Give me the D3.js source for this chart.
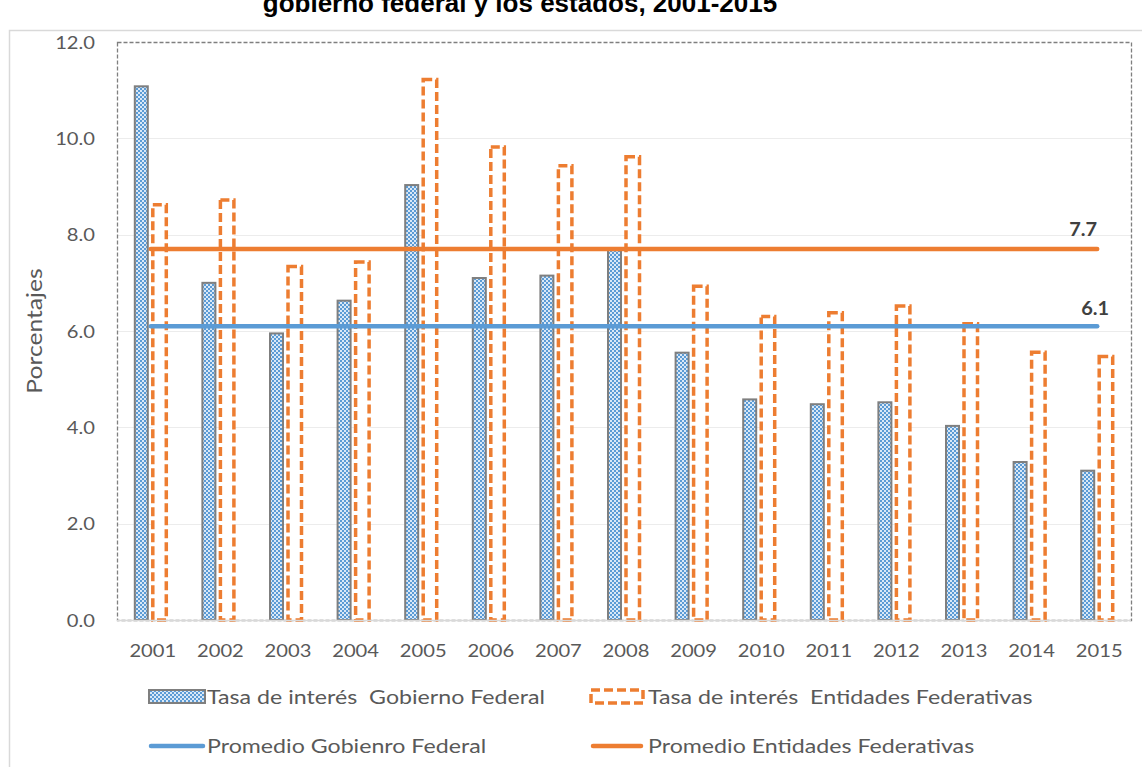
<!DOCTYPE html>
<html>
<head>
<meta charset="utf-8">
<script src="https://cdn.jsdelivr.net/npm/d3@7/dist/d3.min.js"></script>
<style>
  html, body { margin: 0; padding: 0; background: #fff; }
  svg { display: block; }
  text { white-space: pre; }
</style>
</head>
<body>
<svg id="chart" width="1142" height="767"></svg>
<script>
// Interest rates, federal government vs. states, 2001-2015 (percent)
const years = ["2001","2002","2003","2004","2005","2006","2007","2008","2009","2010","2011","2012","2013","2014","2015"];
const tasaGobiernoFederal = [11.08, 7.00, 5.95, 6.63, 9.03, 7.10, 7.15, 7.68, 5.55, 4.58, 4.48, 4.52, 4.03, 3.28, 3.10];
const tasaEntidadesFederativas = [8.62, 8.72, 7.34, 7.43, 11.22, 9.82, 9.43, 9.62, 6.93, 6.30, 6.38, 6.52, 6.15, 5.56, 5.47];
const promedioGobiernoFederal = [6.1];
const promedioEntidadesFederativas = [7.7];
const yTicks = [0, 2, 4, 6, 8, 10, 12];
const titleText = "gobierno federal y los estados, 2001-2015";
const yAxisTitle = "Porcentajes";
const legendLabels = [
  "Tasa de interés  Gobierno Federal",
  "Tasa de interés  Entidades Federativas",
  "Promedio Gobienro Federal",
  "Promedio Entidades Federativas"
];

const BLUE = "#5b9bd5", ORANGE = "#ed7d31", TEXT = "#595959", GRID = "#d9d9d9";
const FONT = "Lato, 'Open Sans', sans-serif";
const SX = 1.12; // horizontal text stretch

const svg = d3.select("#chart");
const plot = { left: 117, right: 1131, top: 42, bottom: 620 };

const x = d3.scaleBand().domain(years).range([plot.left, plot.right]);
const y = d3.scaleLinear().domain([0, 12]).range([plot.bottom, plot.top]);
const cx = d => x(d) + x.bandwidth() / 2;

// checkered fill for the federal government bars
const defs = svg.append("defs");
const pat = defs.append("pattern").attr("id", "checker")
  .attr("patternUnits", "userSpaceOnUse").attr("width", 4).attr("height", 4);
pat.append("rect").attr("width", 4).attr("height", 4).attr("fill", "#d9e8f7");
pat.append("rect").attr("x", 0).attr("y", 0).attr("width", 2).attr("height", 2).attr("fill", BLUE);
pat.append("rect").attr("x", 2).attr("y", 2).attr("width", 2).attr("height", 2).attr("fill", BLUE);

// text helper with horizontal stretch
function label(g, tx, ty, str, opts = {}) {
  return g.append("text")
    .attr("transform", `translate(${tx},${ty}) scale(${opts.sx || SX},1)`)
    .attr("text-anchor", opts.anchor || "start")
    .attr("font-family", opts.family || FONT)
    .attr("font-size", opts.size || 18)
    .attr("font-weight", opts.weight || "normal")
    .attr("fill", opts.fill || TEXT)
    .text(str);
}

// outer chart frame
svg.append("rect").attr("x", 9.5).attr("y", 30.5).attr("width", 1140).attr("height", 760)
  .attr("fill", "none").attr("stroke", GRID).attr("stroke-width", 1.5);

// title (first line lies above the frame)
svg.append("text").attr("x", 520).attr("y", 12)
  .attr("text-anchor", "middle")
  .attr("font-family", "'Liberation Sans', Arial, sans-serif")
  .attr("font-weight", "bold").attr("font-size", 26).attr("fill", "#000")
  .text(titleText);

// gridlines
svg.append("g").selectAll("line").data(yTicks.filter(t => t > 0 && t < 12)).join("line")
  .attr("x1", plot.left).attr("x2", plot.right)
  .attr("y1", d => Math.round(y(d)) + 0.5).attr("y2", d => Math.round(y(d)) + 0.5)
  .attr("stroke", "#ececec").attr("stroke-width", 1);

// plot area dashed border
svg.append("rect").attr("x", plot.left + 0.5).attr("y", plot.top + 0.5)
  .attr("width", plot.right - plot.left).attr("height", plot.bottom - plot.top)
  .attr("fill", "none").attr("stroke", "#7f7f7f").attr("stroke-width", 1.3)
  .attr("stroke-dasharray", "4,2");

// y tick labels
const yAxis = d3.axisLeft(y).tickValues(yTicks).tickFormat(d3.format(".1f")).tickSize(0);
const yg = svg.append("g").attr("transform", `translate(${plot.left},0)`).call(yAxis);
yg.select(".domain").remove();
yg.selectAll("text")
  .attr("x", null).attr("dy", null).attr("text-anchor", "end")
  .attr("transform", `translate(-22,6) scale(${SX},1)`)
  .attr("font-family", FONT).attr("font-size", 18).attr("fill", TEXT);

// y axis title
svg.append("text")
  .attr("transform", `translate(42,331) rotate(-90) scale(${SX},1)`)
  .attr("text-anchor", "middle").attr("font-family", FONT).attr("font-size", 22)
  .attr("fill", TEXT).text(yAxisTitle);

// federal government bars
svg.append("g").selectAll("rect").data(years).join("rect")
  .attr("x", (d) => cx(d) - 16)
  .attr("width", 13)
  .attr("y", (d, i) => y(tasaGobiernoFederal[i]))
  .attr("height", (d, i) => y(0) - y(tasaGobiernoFederal[i]))
  .attr("fill", "url(#checker)").attr("stroke", "#7f7f7f").attr("stroke-width", 2);

// states bars (dashed outline)
svg.append("g").selectAll("rect").data(years).join("rect")
  .attr("x", (d) => cx(d) + 2)
  .attr("width", 13.5)
  .attr("y", (d, i) => y(tasaEntidadesFederativas[i]))
  .attr("height", (d, i) => y(0) - y(tasaEntidadesFederativas[i]))
  .attr("fill", "#fff").attr("stroke", ORANGE).attr("stroke-width", 3.5)
  .attr("stroke-dasharray", "9,4");

// x axis line
svg.append("line").attr("x1", plot.left).attr("x2", plot.right)
  .attr("y1", plot.bottom + 0.5).attr("y2", plot.bottom + 0.5)
  .attr("stroke", GRID).attr("stroke-width", 1.5);

// x tick labels
const xg = svg.append("g");
years.forEach(yr => label(xg, cx(yr) + 2, 657, yr, { anchor: "middle" }));

// average lines
const line = d3.line().x(d => cx(d.year)).y(d => y(d.v));
const avgSeries = [
  { v: promedioEntidadesFederativas[0], color: ORANGE, dx: -14, dy: -13 },
  { v: promedioGobiernoFederal[0], color: BLUE, dx: -2, dy: -11 }
];
avgSeries.forEach(s => {
  svg.append("path")
    .datum(years.map(yr => ({ year: yr, v: s.v })))
    .attr("d", line).attr("fill", "none")
    .attr("stroke", s.color).attr("stroke-width", 4.5).attr("stroke-linecap", "round");
  label(svg, cx(years[years.length - 1]) + s.dx, y(s.v) + s.dy, d3.format(".1f")(s.v),
    { anchor: "middle", weight: "bold", size: 19, fill: "#404040", sx: 1.05 });
});

// legend
const LEG = { size: 19, sx: 1.22 };
const lg = svg.append("g");
lg.append("rect").attr("x", 149).attr("y", 690).attr("width", 56).attr("height", 13)
  .attr("fill", "url(#checker)").attr("stroke", "#7f7f7f").attr("stroke-width", 2);
label(lg, 207, 704, legendLabels[0], LEG);
lg.append("rect").attr("x", 591).attr("y", 690).attr("width", 52).attr("height", 13)
  .attr("fill", "#fff").attr("stroke", ORANGE).attr("stroke-width", 3.5)
  .attr("stroke-dasharray", "9,4");
label(lg, 648, 704, legendLabels[1], LEG);
lg.append("line").attr("x1", 151).attr("x2", 203).attr("y1", 746).attr("y2", 746)
  .attr("stroke", BLUE).attr("stroke-width", 4.5).attr("stroke-linecap", "round");
label(lg, 207, 753, legendLabels[2], LEG);
lg.append("line").attr("x1", 593).attr("x2", 641).attr("y1", 746).attr("y2", 746)
  .attr("stroke", ORANGE).attr("stroke-width", 4.5).attr("stroke-linecap", "round");
label(lg, 648, 753, legendLabels[3], LEG);
</script>
</body>
</html>
